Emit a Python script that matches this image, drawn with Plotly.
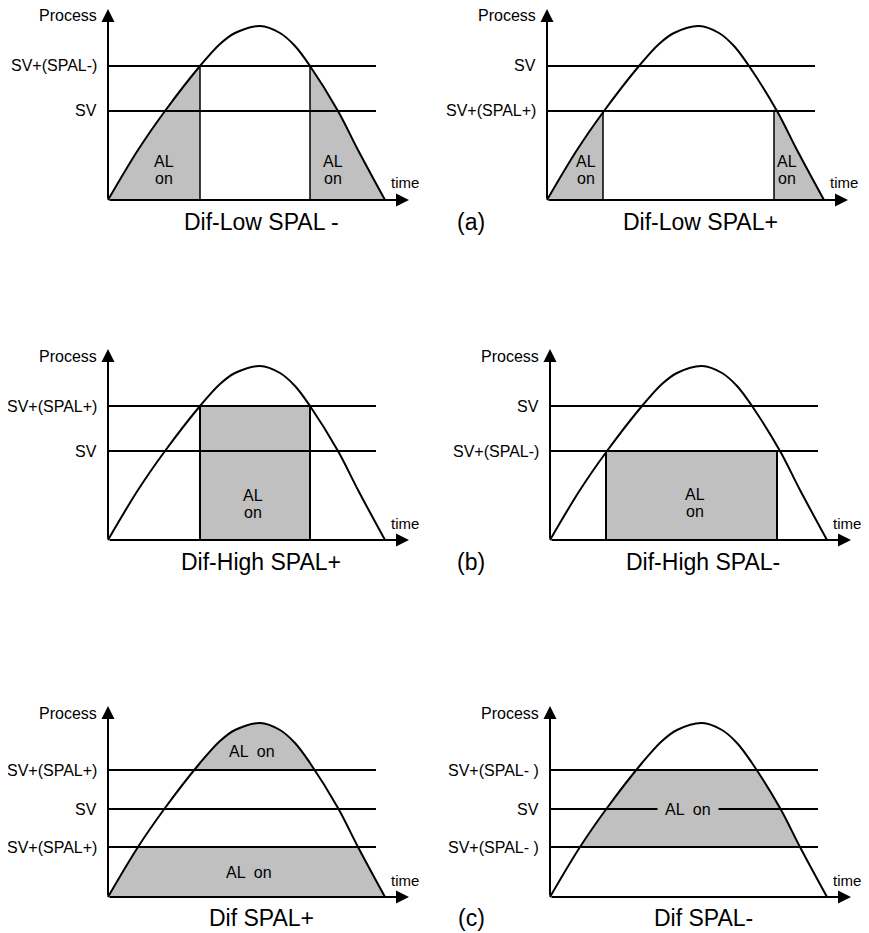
import plotly.graph_objects as go

# ---------------- data ----------------
# shared process curve: time from the vertical axis, process value above the time axis
curve_t = [0, 30, 57, 92, 112, 127, 152, 172, 187, 202, 230, 250, 277]
curve_p = [0, 50, 89, 134, 156, 167, 174, 167, 154, 134, 89, 50, 0]

titles = ["Dif-Low SPAL -", "Dif-Low SPAL+", "Dif-High SPAL+",
          "Dif-High SPAL-", "Dif SPAL+", "Dif SPAL-"]
group_labels = ["(a)", "(b)", "(c)"]

# (a) Dif-Low SPAL-
lowm_levels = [134, 89]
lowm_names = ["SV+(SPAL-)", "SV"]
lowm_switch = [92, 202]          # alarm off between these times
# (a) Dif-Low SPAL+
lowp_levels = [134, 89]
lowp_names = ["SV", "SV+(SPAL+)"]
lowp_switch = [56, 227]
# (b) Dif-High SPAL+
highp_levels = [134, 89]
highp_names = ["SV+(SPAL+)", "SV"]
highp_switch = [92, 202]         # alarm on between these times
# (b) Dif-High SPAL-
highm_levels = [134, 89]
highm_names = ["SV", "SV+(SPAL-)"]
highm_switch = [56, 227]
# (c) Dif SPAL+
difp_levels = [127, 88, 50]
difp_names = ["SV+(SPAL+)", "SV", "SV+(SPAL+)"]
# (c) Dif SPAL-
difm_levels = [127, 88, 50]
difm_names = ["SV+(SPAL- )", "SV", "SV+(SPAL- )"]

# ---------------- layout helpers ----------------
OFF = 8                      # page body margin of the html page
W, H = 861, 925
GRAY = "rgb(192,192,192)"
FONT = "Arial, 'Liberation Sans', sans-serif"
XR = [-98, 314]
YR = [-35, 190]
LINE_END = 268
screen_origins = [(108, 200), (547, 200), (108, 540), (550, 540), (108, 897), (550, 897)]
origins = [(x - OFF, y - OFF) for x, y in screen_origins]
title_ys = [-22, -22, -22, -22, -21, -21]

fig = go.Figure()
annotations = []
layout = {}


def refs(i):
    k = "" if i == 0 else str(i + 1)
    return "x" + k, "y" + k, "xaxis" + k, "yaxis" + k


for i, (ox, oy) in enumerate(origins):
    xr, yr, xa, ya = refs(i)
    layout[xa] = dict(domain=[(ox + XR[0]) / W, (ox + XR[1]) / W], range=XR,
                      visible=False, fixedrange=True)
    layout[ya] = dict(domain=[1 - (oy - YR[0]) / H, 1 - (oy - YR[1]) / H], range=YR,
                      visible=False, fixedrange=True)


def trace(i, x, y, **kw):
    xr, yr, _, _ = refs(i)
    fig.add_trace(go.Scatter(x=x, y=y, xaxis=xr, yaxis=yr, hoverinfo="skip",
                             showlegend=False, cliponaxis=False, **kw))


def gray_under_curve(i):
    trace(i, curve_t, curve_p, mode="lines", fill="tozeroy", fillcolor=GRAY,
          line=dict(width=0, color="rgba(0,0,0,0)", shape="spline"))


def box(i, x0, x1, y0, y1, color):
    trace(i, [x0, x1, x1, x0, x0], [y0, y0, y1, y1, y0], mode="lines", fill="toself",
          fillcolor=color, line=dict(width=0, color="rgba(0,0,0,0)"))


def curve(i):
    trace(i, curve_t, curve_p, mode="lines",
          line=dict(width=2, color="black", shape="spline"))


def hline(i, y):
    trace(i, [0, LINE_END], [y, y], mode="lines", line=dict(width=2, color="black"))


def vline(i, x, y, w=2):
    trace(i, [x, x], [0, y], mode="lines", line=dict(width=w, color="black"))


def text(i, x, y, s, size=16, xanchor="center", bg=None, pad=1):
    xr, yr, _, _ = refs(i)
    d = dict(x=x, y=y, xref=xr, yref=yr, text=s, showarrow=False, xanchor=xanchor,
             yanchor="middle", font=dict(family=FONT, size=size, color="black"),
             borderpad=pad)
    if bg:
        d["bgcolor"] = bg
    annotations.append(d)


def frame(i, names, levels):
    xr, yr, _, _ = refs(i)
    for tipx, tipy in [(0, 191), (301, 0)]:
        annotations.append(dict(x=tipx, y=tipy, ax=0, ay=0, xref=xr, yref=yr,
                                axref=xr, ayref=yr, text="", showarrow=True,
                                arrowhead=2, arrowsize=1.3, arrowwidth=2,
                                arrowcolor="black", standoff=0))
    text(i, -9, 184, "Process", xanchor="right")
    for n, v in zip(names, levels):
        text(i, -9, v, n, xanchor="right")
    text(i, 281, 17, "time", size=15, xanchor="left")
    text(i, 153, title_ys[i], titles[i], size=23)


# panel 1: Dif-Low SPAL-
gray_under_curve(0)
box(0, lowm_switch[0], lowm_switch[1], 0, max(curve_p) + 2, "white")
curve(0)
for v in lowm_levels:
    hline(0, v)
for x in lowm_switch:
    vline(0, x, lowm_levels[0], 1.5)
frame(0, lowm_names, lowm_levels)
for x in [56, 225]:
    text(0, x, 38, "AL")
    text(0, x, 21, "on")

# panel 2: Dif-Low SPAL+
gray_under_curve(1)
box(1, lowp_switch[0], lowp_switch[1], 0, max(curve_p) + 2, "white")
curve(1)
for v in lowp_levels:
    hline(1, v)
for x in lowp_switch:
    vline(1, x, lowp_levels[1], 1.5)
frame(1, lowp_names, lowp_levels)
for x in [39, 240]:
    text(1, x, 38, "AL")
    text(1, x, 21, "on")

# panel 3: Dif-High SPAL+
box(2, highp_switch[0], highp_switch[1], 0, highp_levels[0], GRAY)
curve(2)
for v in highp_levels:
    hline(2, v)
for x in highp_switch:
    vline(2, x, highp_levels[0])
frame(2, highp_names, highp_levels)
text(2, 145, 45, "AL")
text(2, 145, 28, "on")

# panel 4: Dif-High SPAL-
box(3, highm_switch[0], highm_switch[1], 0, highm_levels[1], GRAY)
curve(3)
for v in highm_levels:
    hline(3, v)
for x in highm_switch:
    vline(3, x, highm_levels[1])
frame(3, highm_names, highm_levels)
text(3, 145, 46, "AL")
text(3, 145, 29, "on")

# panel 5: Dif SPAL+
gray_under_curve(4)
box(4, 0, curve_t[-1], difp_levels[2], difp_levels[0], "white")
curve(4)
for v in difp_levels:
    hline(4, v)
frame(4, difp_names, difp_levels)
text(4, 144, 146, "AL  on")
text(4, 141, 25, "AL  on")

# panel 6: Dif SPAL-
gray_under_curve(5)
box(5, 0, curve_t[-1], 0, difm_levels[2], "white")
box(5, 0, curve_t[-1], difm_levels[0], max(curve_p) + 2, "white")
curve(5)
for v in difm_levels:
    hline(5, v)
frame(5, difm_names, difm_levels)
text(5, 138, difm_levels[1], "AL  on", bg=GRAY, pad=7)

# group labels (a) (b) (c)
for g, i in zip(group_labels, [1, 3, 5]):
    xr, yr, _, _ = refs(i)
    annotations.append(dict(x=(471 - OFF) / W, y=title_ys[i], xref="paper", yref=yr,
                            text=g, showarrow=False, xanchor="center", yanchor="middle",
                            font=dict(family=FONT, size=23, color="black")))

fig.update_layout(width=W, height=H, margin=dict(l=0, r=0, t=0, b=0),
                  paper_bgcolor="white", plot_bgcolor="white",
                  annotations=annotations, showlegend=False, **layout)
fig.write_html("out.html")
